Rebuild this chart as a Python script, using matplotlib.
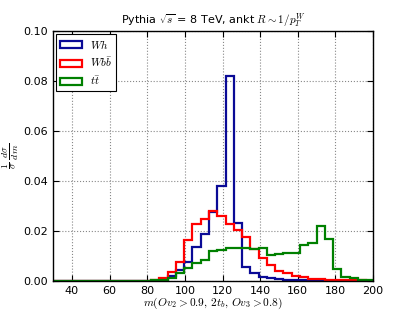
import numpy as np
import matplotlib
matplotlib.use("Agg")
import matplotlib.pyplot as plt

plt.rcParams["mathtext.fontset"] = "cm"

# Bin edges of the histograms (GeV)
bin_lo = 29.2
bin_width = 4.4
n_bins = 39
edges = bin_lo + bin_width * np.arange(n_bins + 1)

# Normalised distributions, one value per bin
wh = [0, 0, 0, 0, 0, 0, 0, 0, 0, 0,
      0, 0, 0, 0.0005, 0.0018, 0.0042, 0.0075, 0.0134, 0.0189, 0.0274,
      0.0380, 0.0821, 0.0230, 0.0057, 0.0030, 0.0017, 0.0012, 0.0008, 0.0005, 0.0003,
      0.0002, 0.0001, 0.0001, 0.0001, 0, 0, 0, 0, 0]
wbb = [0, 0, 0, 0, 0, 0, 0, 0, 0, 0,
       0, 0, 0.0003, 0.0013, 0.0034, 0.0077, 0.0162, 0.0226, 0.0249, 0.0278,
       0.0261, 0.0229, 0.0204, 0.0175, 0.0127, 0.0090, 0.0064, 0.0041, 0.0030, 0.0020,
       0.0015, 0.0009, 0.0009, 0.0005, 0.0005, 0.0004, 0.0003, 0.0002, 0.0001]
tt = [0, 0, 0, 0, 0, 0, 0, 0, 0, 0,
      0, 0, 0.0002, 0.0004, 0.0010, 0.0030, 0.0052, 0.0070, 0.0085, 0.0118,
      0.0124, 0.0130, 0.0133, 0.0133, 0.0127, 0.0130, 0.0104, 0.0107, 0.0113, 0.0113,
      0.0144, 0.0150, 0.0221, 0.0166, 0.0046, 0.0015, 0.0012, 0.0004, 0.0003]

labels = ["$Wh$", r"$Wb\bar{b}$", r"$t\bar{t}$"]
colors = ["#0a0a96", "#ff0000", "#008000"]

fig = plt.figure(figsize=(4.15, 3.12), dpi=100)
ax = fig.add_axes([0.128, 0.0994, 0.771, 0.8012])

for vals, lab, col in zip([wh, wbb, tt], labels, colors):
    ax.hist(edges[:-1], bins=edges, weights=vals, histtype="step",
            color=col, linewidth=1.6, label=lab)

ax.set_xlim(30, 200)
ax.set_ylim(0, 0.10)
ax.set_xticks(np.arange(40, 201, 20))
ax.set_yticks(np.arange(0, 0.101, 0.02))
ax.yaxis.set_major_formatter(matplotlib.ticker.FormatStrFormatter("%.2f"))
ax.tick_params(direction="in", top=True, right=True, labelsize=8, length=4)
ax.grid(True, linestyle=":", color="#888888", linewidth=0.8)
for sp in ax.spines.values():
    sp.set_linewidth(1.0)

ax.set_title(r"Pythia $\sqrt{s}$ = 8 TeV, ankt $R\sim 1/p_T^W$", fontsize=8, pad=5)
ax.set_xlabel(r"$m(Ov_2>0.9,\,2t_b,\,Ov_3>0.8)$", fontsize=8.2, labelpad=0)
ax.set_ylabel(r"$\frac{1}{\sigma}\,\frac{d\sigma}{d\,m}$", fontsize=10)
ax.yaxis.set_label_coords(-0.1, 0.5)

leg = ax.legend(loc="upper left", fontsize=8, fancybox=False, framealpha=1,
                edgecolor="black", handlelength=2.0, handleheight=0.6,
                borderpad=0.35, labelspacing=0.45, handletextpad=0.7,
                borderaxespad=0.25)
leg.get_frame().set_linewidth(0.8)

fig.savefig("out.png", dpi=100)
